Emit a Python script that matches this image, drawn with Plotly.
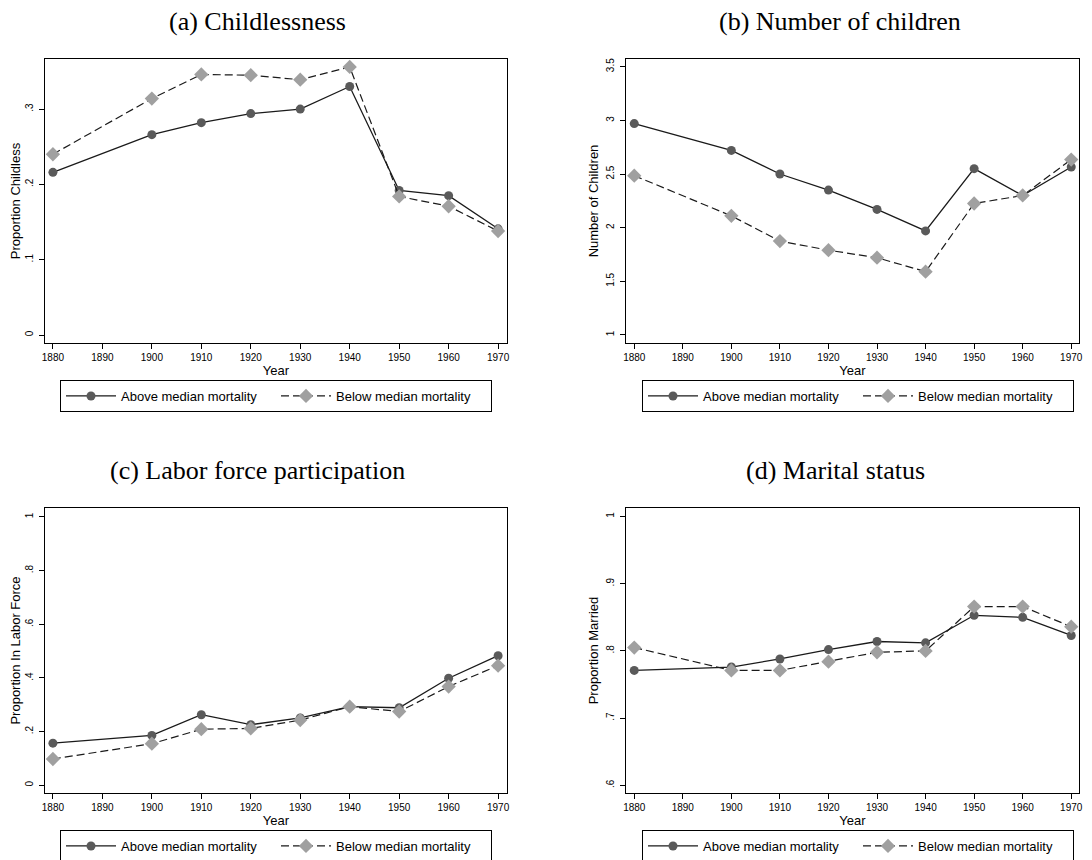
import plotly.graph_objects as go

# ---------------- data ----------------
years = [1880, 1900, 1910, 1920, 1930, 1940, 1950, 1960, 1970]
x_ticks = [1880, 1890, 1900, 1910, 1920, 1930, 1940, 1950, 1960, 1970]

childless_above = [0.216, 0.266, 0.282, 0.294, 0.300, 0.330, 0.192, 0.185, 0.141]
childless_below = [0.240, 0.314, 0.346, 0.345, 0.339, 0.356, 0.184, 0.171, 0.138]

children_above = [2.97, 2.72, 2.50, 2.35, 2.17, 1.97, 2.55, 2.30, 2.565]
children_below = [2.485, 2.11, 1.875, 1.79, 1.72, 1.59, 2.225, 2.30, 2.635]

lfp_above = [0.157, 0.186, 0.263, 0.226, 0.251, 0.293, 0.289, 0.399, 0.483]
lfp_below = [0.098, 0.155, 0.209, 0.212, 0.243, 0.293, 0.275, 0.368, 0.446]

married_above = [0.771, 0.776, 0.788, 0.802, 0.814, 0.812, 0.853, 0.850, 0.823]
married_below = [0.805, 0.771, 0.771, 0.784, 0.798, 0.800, 0.866, 0.866, 0.836]

titles = ["(a) Childlessness", "(b) Number of children",
          "(c) Labor force participation", "(d) Marital status"]
y_titles = ["Proportion Childless", "Number of Children",
            "Proportion In Labor Force", "Proportion Married"]
y_tickvals = [[0, 0.1, 0.2, 0.3],
              [1, 1.5, 2, 2.5, 3, 3.5],
              [0, 0.2, 0.4, 0.6, 0.8, 1],
              [0.6, 0.7, 0.8, 0.9, 1]]
y_ticktext = [["0", ".1", ".2", ".3"],
              ["1", "1.5", "2", "2.5", "3", "3.5"],
              ["0", ".2", ".4", ".6", ".8", "1"],
              [".6", ".7", ".8", ".9", "1"]]
series = [(childless_above, childless_below),
          (children_above, children_below),
          (lfp_above, lfp_below),
          (married_above, married_below)]
legend_labels = ["Above median mortality", "Below median mortality"]

# ---------------- layout helpers ----------------
# the page body has an 8px default margin, so the figure is drawn from (8, 8)
OFF = 8
W, H = 1092 - OFF, 860 - OFF
SANS = "Liberation Sans, Arial, sans-serif"
SERIF = "Liberation Serif, Times New Roman, serif"

def px_x(p):
    return (p - OFF) / W

def px_y(p):
    return 1 - (p - OFF) / H

# plot boxes in page pixels: (left, right, top, bottom)
boxes = [(45, 507, 59, 343), (626, 1079, 59, 343),
         (45, 507, 508, 793), (626, 1079, 508, 793)]
x_ranges = [[1878.4, 1971.8], [1878.3, 1971.6], [1878.4, 1971.8], [1878.3, 1971.6]]
y_ranges = [[-0.0106, 0.3665], [0.925, 3.572], [-0.0287, 1.0335], [0.5885, 1.0127]]
title_pos = [(257, 21), (840, 21), (257, 470), (835, 470)]
legend_pos = [(60, 380), (642, 380), (60, 830), (642, 830)]

fig = go.Figure()
layout = dict(
    width=W, height=H,
    margin=dict(l=0, r=0, t=0, b=0, autoexpand=False),
    paper_bgcolor="white", plot_bgcolor="white",
    font=dict(family=SANS, color="black", size=13),
    annotations=[],
)

for i in range(4):
    n = "" if i == 0 else str(i + 1)
    xa, ya = "x" + n, "y" + n
    leg = "legend" + n
    above, below = series[i]
    fig.add_trace(go.Scatter(
        x=years, y=above, mode="lines+markers", name=legend_labels[0],
        xaxis=xa, yaxis=ya, legend=leg,
        line=dict(color="#1a1a1a", width=1.3),
        marker=dict(symbol="circle", size=9, color="#5a5a5a", line=dict(width=0)),
    ))
    fig.add_trace(go.Scatter(
        x=years, y=below, mode="lines+markers", name=legend_labels[1],
        xaxis=xa, yaxis=ya, legend=leg,
        line=dict(color="#1a1a1a", width=1.2, dash="8px,4px"),
        marker=dict(symbol="diamond", size=11, color="#a0a0a0", line=dict(width=0)),
    ))
    l, r, t, b = boxes[i]
    layout["xaxis" + n] = dict(
        domain=[px_x(l), px_x(r)], anchor=ya, range=x_ranges[i],
        automargin=False,
        tickmode="array", tickvals=x_ticks, ticktext=[str(v) for v in x_ticks],
        ticks="outside", ticklen=5, tickwidth=1, tickcolor="black",
        tickfont=dict(size=10, family=SANS),
        showline=True, linecolor="black", linewidth=1.3, mirror=True,
        showgrid=False, zeroline=False,
        title=dict(text="Year", font=dict(size=13, family=SANS), standoff=0),
    )
    layout["yaxis" + n] = dict(
        domain=[px_y(b), px_y(t)], anchor=xa, range=y_ranges[i],
        automargin=False,
        tickmode="array", tickvals=y_tickvals[i], ticktext=y_ticktext[i],
        ticks="outside", ticklen=5, tickwidth=1, tickcolor="black",
        tickfont=dict(size=10, family=SANS), tickangle=-90, ticklabelstandoff=2,
        showline=True, linecolor="black", linewidth=1.3, mirror=True,
        showgrid=False, zeroline=False,
        title=dict(text=y_titles[i], font=dict(size=13, family=SANS), standoff=3),
    )
    lx, ly = legend_pos[i]
    layout[leg] = dict(
        x=px_x(lx), y=px_y(ly), xanchor="left", yanchor="top",
        orientation="h", bordercolor="black", borderwidth=1,
        bgcolor="white", font=dict(size=13, family=SANS),
        itemwidth=50, entrywidth=150, entrywidthmode="pixels",
        traceorder="normal", itemclick=False, itemdoubleclick=False,
    )
    tx, ty = title_pos[i]
    layout["annotations"].append(dict(
        text=titles[i], x=px_x(tx), y=px_y(ty), xref="paper", yref="paper",
        xanchor="center", yanchor="middle", showarrow=False,
        font=dict(family=SERIF, size=26, color="black"),
    ))

fig.update_layout(**layout)
fig.write_html("out.html")
